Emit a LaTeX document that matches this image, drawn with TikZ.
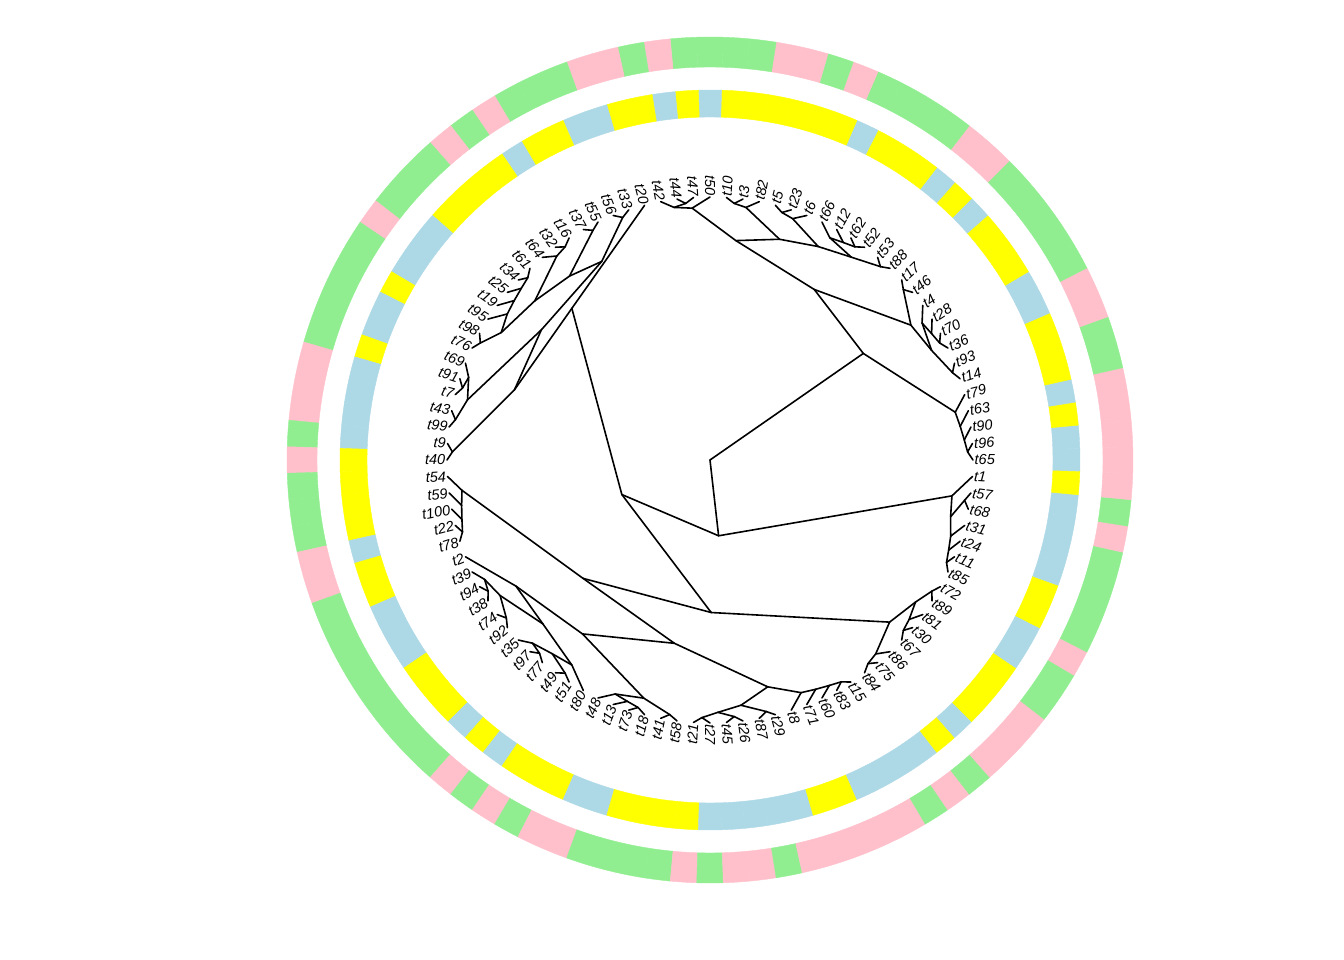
\documentclass[tikz,border=0pt]{standalone}
\usepackage{fontspec}
\setmainfont{Liberation Sans}
\usepackage{tikz}
\definecolor{pk}{HTML}{FFC0CB}
\definecolor{gr}{HTML}{90EE90}
\definecolor{lb}{HTML}{ADD8E6}
\definecolor{ye}{HTML}{FFFF00}
% angle and tip count of every tip and clade
\newcommand\setang[2]{\expandafter\xdef\csname ang@#1\endcsname{#2}}
\newcommand\setnt[2]{\expandafter\xdef\csname nt@#1\endcsname{#2}}
\newcommand\getang[1]{\csname ang@#1\endcsname}
\newcommand\getnt[1]{\csname nt@#1\endcsname}
\def\rtip{263}
% clade: mean angle of the children, radius from the number of tips
\newcommand\clade[2]{%
  \gdef\cladeang{0}\gdef\cladent{0}\gdef\cladech{0}%
  \foreach \kid in {#2}{%
    \pgfmathsetmacro\tmpa{\cladeang+\getang{\kid}}\xdef\cladeang{\tmpa}%
    \pgfmathsetmacro\tmpb{\cladent+\getnt{\kid}}\xdef\cladent{\tmpb}%
    \pgfmathsetmacro\tmpc{\cladech+1}\xdef\cladech{\tmpc}%
  }%
  \pgfmathsetmacro\cladeang{\cladeang/\cladech}%
  \pgfmathsetmacro\claderad{\rtip*(1-\cladent/100)}%
  \setang{#1}{\cladeang}\setnt{#1}{\cladent}%
  \coordinate (#1) at (\cladeang:\claderad pt);%
  \foreach \kid in {#2}{\draw[edge] (#1) -- (\kid);}%
}
\begin{document}
\begin{tikzpicture}[x=1pt,y=1pt,
  edge/.style={line width=1.6pt,line cap=round,black},
  tiplab/.style={font=\fontsize{14.5}{16}\selectfont\itshape,inner sep=1.5pt},
  seg/.style={line width=0.4pt}]
  \useasboundingbox (-710,-500) rectangle (634,460);
  % ---- tips, trait rings, labels
  \foreach \nm/\ci/\co [count=\i] in {t65/lb/pk,t96/lb/pk,t90/ye/pk,t63/lb/pk,t79/ye/gr,
    t14/ye/gr,t93/ye/pk,t36/lb/pk,t70/lb/gr,t28/ye/gr,t4/ye/gr,t46/ye/gr,t17/lb/gr,
    t88/ye/pk,t53/lb/pk,t52/ye/gr,t62/ye/gr,t12/ye/gr,t66/lb/gr,t6/ye/pk,t23/ye/gr,
    t5/ye/pk,t82/ye/pk,t3/ye/gr,t10/ye/gr,t50/lb/gr,t47/ye/gr,t44/lb/pk,t42/ye/gr,
    t20/ye/pk,t33/lb/pk,t56/lb/gr,t55/ye/gr,t37/ye/gr,t16/lb/pk,t32/ye/gr,t64/ye/pk,
    t61/ye/gr,t34/ye/gr,t25/lb/gr,t19/lb/pk,t95/lb/gr,t98/ye/gr,t76/lb/gr,t69/lb/gr,
    t91/ye/gr,t7/lb/pk,t43/lb/pk,t99/lb/pk,t9/lb/gr,t40/ye/pk,t54/ye/gr,t59/ye/gr,
    t100/ye/gr,t22/lb/pk,t78/ye/pk,t2/ye/gr,t39/lb/gr,t94/lb/gr,t38/lb/gr,t74/ye/gr,
    t92/ye/gr,t35/ye/gr,t97/lb/gr,t77/ye/pk,t49/lb/gr,t51/ye/pk,t80/ye/gr,t48/ye/pk,
    t13/lb/pk,t73/lb/gr,t18/ye/gr,t41/ye/gr,t58/ye/gr,t21/ye/pk,t27/lb/gr,t45/lb/pk,
    t26/lb/pk,t87/lb/gr,t29/lb/pk,t8/ye/pk,t71/ye/pk,t60/lb/pk,t83/lb/pk,t15/lb/gr,
    t84/lb/pk,t75/ye/gr,t86/lb/pk,t67/ye/pk,t30/ye/pk,t81/ye/gr,t89/lb/gr,t72/lb/pk,
    t85/ye/gr,t11/ye/gr,t24/lb/gr,t31/lb/gr,t68/lb/pk,t57/lb/gr,t1/ye/pk}{
    \pgfmathsetmacro\tipang{3.6*(\i-1)}
    \setang{\nm}{\tipang}\setnt{\nm}{1}
    \coordinate (\nm) at (\tipang:\rtip pt);
    \fill[\ci,draw=\ci,seg] (\tipang-1.8:343pt) arc[start angle=\tipang-1.8,end angle=\tipang+1.8,radius=343pt]
      -- (\tipang+1.8:370pt) arc[start angle=\tipang+1.8,end angle=\tipang-1.8,radius=370pt] -- cycle;
    \fill[\co,draw=\co,seg] (\tipang-1.8:393pt) arc[start angle=\tipang-1.8,end angle=\tipang+1.8,radius=393pt]
      -- (\tipang+1.8:423pt) arc[start angle=\tipang+1.8,end angle=\tipang-1.8,radius=423pt] -- cycle;
    \pgfmathtruncatemacro\flip{and(\tipang>90,\tipang<270)}
    \ifnum\flip=1
      \node[tiplab,anchor=east,rotate=\tipang-180] (lab\nm) at (\tipang:\rtip pt) {\nm};
    \else
      \node[tiplab,anchor=west,rotate=\tipang] (lab\nm) at (\tipang:\rtip pt) {\nm};
    \fi
  }
  % ---- clade t65 .. t42
  \clade{b1}{t96,t65}
  \clade{b2}{t90,b1}
  \clade{b3}{t63,b2}
  \clade{b4}{t79,b3}
  \clade{d1}{t70,t36}
  \clade{d2}{t28,d1}
  \clade{d3}{t4,d2}
  \clade{d4}{t93,t14}
  \clade{d5}{d3,d4}
  \clade{d6}{t17,t46}
  \clade{d7}{d6,d5}
  \clade{f1}{t44,t47}
  \clade{f2}{t42,f1}
  \clade{f3}{f2,t50}
  \clade{g1}{t10,t3}
  \clade{g2}{g1,t82}
  \clade{h1}{t5,t23}
  \clade{h2}{h1,t6}
  \clade{q1}{t62,t52}
  \clade{q2}{t12,q1}
  \clade{q3}{t66,q2}
  \clade{q4}{t53,t88}
  \clade{q5}{q3,q4}
  \clade{e9}{h2,q5}
  \clade{e12}{g2,e9}
  \clade{e16}{f3,e12}
  \clade{c24}{d7,e16}
  \clade{a29}{b4,c24}
  % ---- clade t20 .. t40
  \clade{r1}{t33,t56}
  \clade{r2}{t55,t37}
  \clade{r3}{t16,t32}
  \clade{r4}{t64,r3}
  \clade{r5}{t34,t61}
  \clade{r6}{t25,r5}
  \clade{r7}{t19,r6}
  \clade{r8}{t95,r7}
  \clade{r9}{t98,t76}
  \clade{u1}{r9,r8}
  \clade{u2}{u1,r4}
  \clade{u3}{u2,r2}
  \clade{u4}{u3,r1}
  \clade{m1}{t91,t7}
  \clade{m2}{t69,m1}
  \clade{m3}{t43,t99}
  \clade{m4}{m2,m3}
  \clade{x19}{u4,m4}
  \clade{p9}{t9,t40}
  \clade{r21}{x19,p9}
  \clade{r22}{t20,r21}
  % ---- clade t54 .. t72
  \clade{s1}{t22,t78}
  \clade{s2}{t100,s1}
  \clade{s3}{t59,s2}
  \clade{s4}{t54,s3}
  \clade{w1}{t94,t38}
  \clade{w2}{t39,w1}
  \clade{w3}{t74,t92}
  \clade{w4}{w2,w3}
  \clade{w5}{t97,t77}
  \clade{w6}{t35,w5}
  \clade{w7}{t49,t51}
  \clade{w8}{w6,w7}
  \clade{w9}{w8,t80}
  \clade{w11}{w4,w9}
  \clade{w12}{t2,w11}
  \clade{l1}{t73,t18}
  \clade{l2}{t13,l1}
  \clade{l3}{t48,l2}
  \clade{l4}{t41,t58}
  \clade{l5}{l3,l4}
  \clade{u18}{w12,l5}
  \clade{v1}{t21,t27}
  \clade{v2}{t45,t26}
  \clade{v3}{v1,v2}
  \clade{v4}{t87,t29}
  \clade{v5}{v3,v4}
  \clade{v6}{t83,t15}
  \clade{v7}{t60,v6}
  \clade{v8}{t71,v7}
  \clade{v9}{t8,v8}
  \clade{v11}{v5,v9}
  \clade{sr}{u18,v11}
  \clade{sl}{s4,sr}
  \clade{y1}{t84,t75}
  \clade{y2}{y1,t86}
  \clade{y3}{t72,t89}
  \clade{y4}{t30,t67}
  \clade{y5}{t81,y4}
  \clade{y6}{y3,y5}
  \clade{y8}{y2,y6}
  \clade{s42}{sl,y8}
  \clade{p64}{r22,s42}
  % ---- clade t85 .. t1, root
  \clade{k1}{t11,t85}
  \clade{k2}{t24,k1}
  \clade{k3}{t31,k2}
  \clade{k4}{t57,t68}
  \clade{k5}{k4,k3}
  \clade{k6}{t1,k5}
  \clade{o71}{p64,k6}
  \clade{root}{a29,o71}
\end{tikzpicture}
\end{document}
